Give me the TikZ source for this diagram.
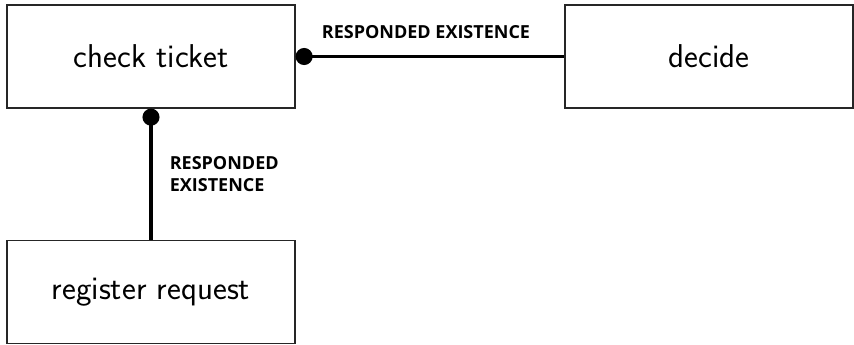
\documentclass[tikz,border=0pt]{standalone}
\usepackage{graphicx}
\usepackage{fontspec}
\newfontfamily\lblfont{Open Sans}
\usetikzlibrary{arrows.meta}
% activity names: Latin Modern Sans, enlarged beyond its largest design size
\newcommand\acttext[1]{\scalebox{1.91}{#1}}
\begin{document}
\begin{tikzpicture}[x=1pt,y=-1pt,
  activity/.style={draw=black!85, line width=1.3pt, minimum width=288pt, minimum height=103pt,
    inner sep=0pt, font=\sffamily\fontsize{17.28}{20}\selectfont},
  constraint/.style={line width=3.6pt, {Circle[length=17pt]}-},
  lbl/.style={font=\lblfont\bfseries\fontsize{18}{22}\selectfont, inner sep=0pt}]
  \useasboundingbox (0,0) rectangle (854,345);
  \node[activity] (ct) at (151,56.5) {\acttext{check ticket}};
  \node[activity] (dec) at (709,56.5) {\acttext{decide}};
  \node[activity] (rr) at (151,292) {\acttext{register request}};
  \draw[constraint] (ct.east) -- (dec.west)
    node[lbl, midway, anchor=south, xshift=-4pt, yshift=16pt] {RESPONDED EXISTENCE};
  \draw[constraint] (ct.south) -- (rr.north)
    node[lbl, midway, anchor=west, xshift=17pt, align=left] {RESPONDED\\EXISTENCE};
\end{tikzpicture}
\end{document}
